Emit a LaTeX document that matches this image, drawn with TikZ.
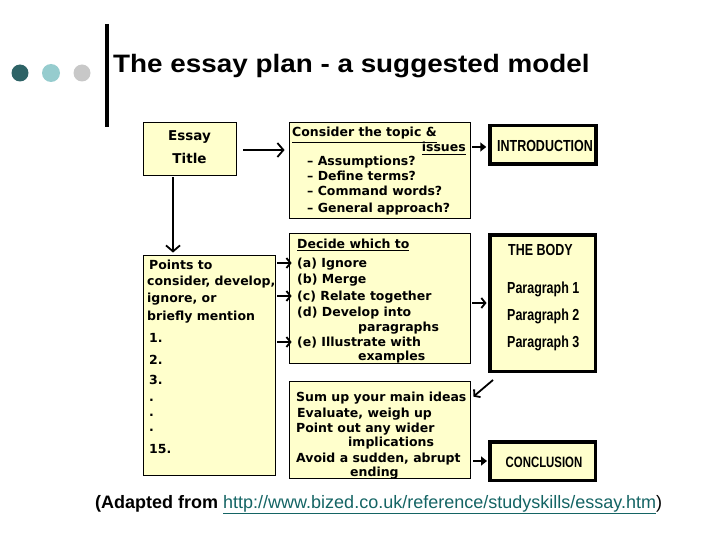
\documentclass[tikz,border=0pt]{standalone}
\usepackage{fontspec}
\usepackage{graphicx}
\setmainfont{Liberation Sans}
\newfontfamily\boxfont{DejaVu Sans}
\usetikzlibrary{arrows.meta}
\definecolor{boxfill}{RGB}{255,255,204}
\definecolor{darkteal}{RGB}{46,99,102}
\definecolor{lightteal}{RGB}{150,204,206}
\definecolor{dotgray}{RGB}{200,200,200}
\definecolor{urlc}{RGB}{20,100,100}
\newcommand\condtxt[1]{\scalebox{0.78}[1]{#1}}
\newcommand\myuline[2][2.2pt]{\leavevmode\vtop{\hbox{#2}\kern#1\hrule height 1pt}}
\tikzset{
  ybox/.style={draw=black, fill=boxfill, line width=0.8pt, inner sep=0pt, rectangle},
  kbox/.style={draw=black, fill=boxfill, line width=3.5pt, inner sep=0pt, rectangle},
  boxtxt/.style={anchor=base west, inner sep=0pt, font=\boxfont\bfseries\fontsize{12.5}{14}\selectfont},
  bigtxt/.style={anchor=base west, inner sep=0pt, font=\bfseries\fontsize{16}{18}\selectfont},
  bigarr/.style={line width=1.8pt, -{Straight Barb[length=6pt,width=14pt,line width=1.8pt]}},
  midarr/.style={line width=1.8pt, -{Straight Barb[length=4pt,width=10pt,line width=1.8pt]}},
  fillarr/.style={line width=2pt, -{Triangle[length=6pt,width=9pt]}}
}
\begin{document}
\begin{tikzpicture}[x=1pt,y=-1pt]
\useasboundingbox (0,0) rectangle (720,540);
% header
\fill[darkteal] (20,73) circle (8.5);
\fill[lightteal] (51,73) circle (9);
\fill[dotgray] (82,73) circle (8.5);
\draw[line width=4pt] (107,24) -- (107,127);
\node[anchor=base west, inner sep=0pt, font=\bfseries\fontsize{24}{28}\selectfont] (title) at (113,73)
  {\scalebox{1.16}[1.05]{The essay plan - a suggested model}};
% boxes
\node[ybox, minimum width=93, minimum height=53] (essay) at (189.5,148.5) {};
\node[ybox, minimum width=181, minimum height=96] (consider) at (379.5,170) {};
\node[kbox, minimum width=106, minimum height=38.5] (intro) at (543,145) {};
\node[ybox, minimum width=132, minimum height=220] (points) at (209,365) {};
\node[ybox, minimum width=181, minimum height=130] (decide) at (379.5,298) {};
\node[kbox, minimum width=105.5, minimum height=136.5] (body) at (542.5,303) {};
\node[ybox, minimum width=181, minimum height=97] (sum) at (379.5,429.5) {};
\node[kbox, minimum width=105.5, minimum height=38.5] (concl) at (542.5,461) {};
% essay title
\node[anchor=base, inner sep=0pt, font=\boxfont\bfseries\fontsize{13.5}{16}\selectfont] (essay1) at (189.5,141) {Essay};
\node[anchor=base, inner sep=0pt, font=\boxfont\bfseries\fontsize{13.5}{16}\selectfont] (essay2) at (189.5,164) {Title};
% consider
\node[boxtxt] (c1) at (292,137) {\myuline{Consider the topic \&}};
\node[boxtxt, anchor=base east] (c2) at (466,152) {\myuline{issues}};
\node[boxtxt] (c3) at (307,166) {– Assumptions?};
\node[boxtxt] (c4) at (307,181) {– Define terms?};
\node[boxtxt] (c5) at (307,196) {– Command words?};
\node[boxtxt] (c6) at (307,212) {– General approach?};
% intro
\node[bigtxt, anchor=base] (introtxt) at (545,152) {\condtxt{INTRODUCTION}};
% points
\node[boxtxt] (p1) at (149,269) {Points to};
\node[boxtxt] (p2) at (147,285) {consider, develop,};
\node[boxtxt] (p3) at (147,302) {ignore, or};
\node[boxtxt] (p4) at (147,320) {briefly mention};
\node[boxtxt] (p5) at (149,342) {1.};
\node[boxtxt] (p6) at (149,364) {2.};
\node[boxtxt] (p7) at (149,384) {3.};
\node[boxtxt] (p8) at (149,401) {.};
\node[boxtxt] (p9) at (149,416) {.};
\node[boxtxt] (p10) at (149,431) {.};
\node[boxtxt] (p11) at (149,453) {15.};
% decide
\node[boxtxt] (d0) at (297,248) {\myuline{Decide which to}};
\node[boxtxt] (da) at (297,267) {(a) Ignore};
\node[boxtxt] (db) at (297,283) {(b) Merge};
\node[boxtxt] (dc) at (297,300) {(c) Relate together};
\node[boxtxt] (dd) at (297,316) {(d) Develop into};
\node[boxtxt] (dd2) at (358,331) {paragraphs};
\node[boxtxt] (de) at (297,346) {(e) Illustrate with};
\node[boxtxt] (de2) at (358,360) {examples};
% body
\node[bigtxt] (b0) at (508,255) {\condtxt{THE BODY}};
\node[bigtxt] (b1) at (507,293) {\condtxt{Paragraph 1}};
\node[bigtxt] (b2) at (507,320) {\condtxt{Paragraph 2}};
\node[bigtxt] (b3) at (507,347) {\condtxt{Paragraph 3}};
% sum
\node[boxtxt] (s1) at (296,401) {Sum up your main ideas};
\node[boxtxt] (s2) at (297,417) {Evaluate, weigh up};
\node[boxtxt] (s3) at (296,432) {Point out any wider};
\node[boxtxt] (s4) at (348,446) {implications};
\node[boxtxt] (s5) at (296,462) {Avoid a sudden, abrupt};
\node[boxtxt] (s6) at (350,476) {ending};
% conclusion
\node[anchor=base, inner sep=0pt, font=\bfseries\fontsize{15}{17}\selectfont] (concltxt) at (544,467) {\scalebox{0.76}[1]{CONCLUSION}};
% footer
\node[anchor=base west, inner sep=0pt, font=\fontsize{18}{22}\selectfont] (foot) at (95,508)
  {\textbf{(Adapted from} \textcolor{urlc}{\myuline[1.2pt]{http://www.bized.co.uk/reference/studyskills/essay.htm}})};
% connectors
\draw[bigarr] ([xshift=7pt,yshift=-1.5pt]essay.east) -- ([xshift=-4pt,yshift=-1.5pt]consider.west|-essay.east);
\draw[bigarr] ([xshift=-16.5pt,yshift=-2pt]essay.south) -- ([xshift=-16.5pt,yshift=2pt]essay.south|-points.north);
\draw[fillarr] ([xshift=2pt,yshift=5pt]consider.east|-c2.base) -- ([xshift=-2pt,yshift=5pt]intro.west|-c2.base);
\draw[midarr] ([xshift=2pt,yshift=4pt]points.east|-da.base) -- ([xshift=3pt,yshift=4pt]decide.west|-da.base);
\draw[midarr] ([xshift=2pt,yshift=4pt]points.east|-dc.base) -- ([xshift=3pt,yshift=4pt]decide.west|-dc.base);
\draw[midarr] ([xshift=2pt,yshift=4pt]points.east|-de.base) -- ([xshift=3pt,yshift=4pt]decide.west|-de.base);
\draw[midarr] ([xshift=2pt,yshift=-5pt]decide.east) -- ([xshift=-1.5pt,yshift=-5pt]body.west|-decide.east);
\draw[midarr] ([xshift=5pt,yshift=-7pt]body.south west) -- ([xshift=3pt,yshift=-16pt]sum.north east);
\draw[fillarr] ([xshift=3pt]sum.east|-concl.center) -- ([xshift=-1pt]concl.west);
\end{tikzpicture}
\end{document}
